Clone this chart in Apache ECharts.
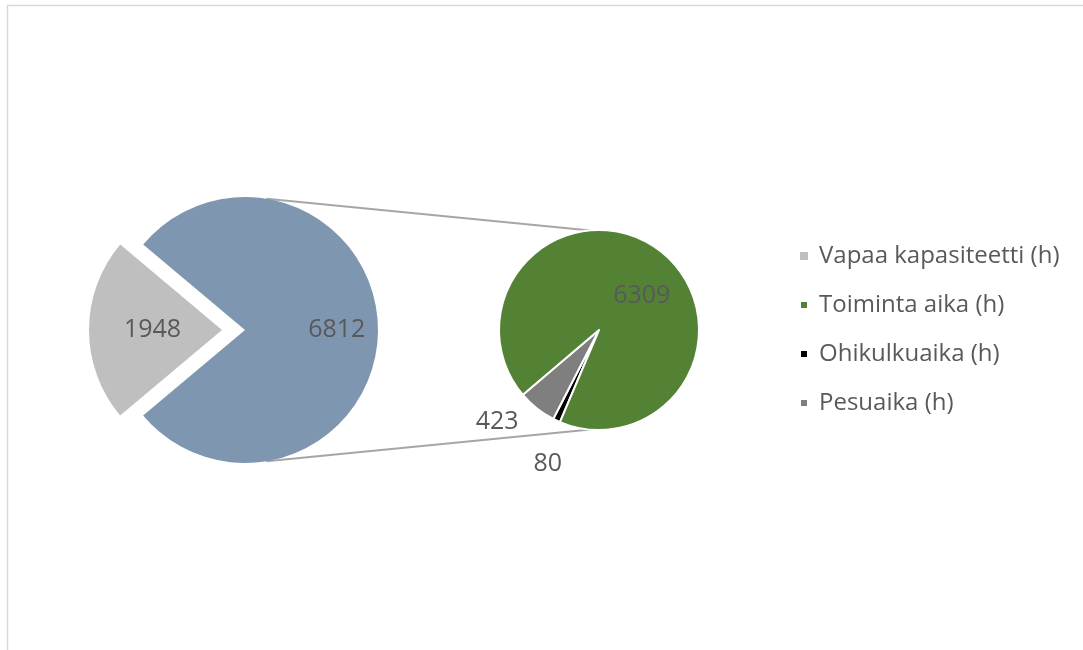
<!DOCTYPE html>
<html>
<head>
<meta charset="utf-8">
<script src="https://cdn.jsdelivr.net/npm/echarts@6/dist/echarts.min.js"></script>
<style>
  html, body { margin: 0; padding: 0; background: #ffffff; }
  #chart { width: 1083px; height: 650px; }
</style>
</head>
<body>
<div id="chart"></div>
<script>
// Käyttöaika jaettuna: vapaa kapasiteetti vs. käytetty aika, joka avataan toiseen piirakkaan
const primaryNames = ['Vapaa kapasiteetti (h)', 'Käytetty aika (h)'];
const primaryValues = [1948, 6812];
const secondaryNames = ['Ohikulkuaika (h)', 'Pesuaika (h)', 'Toiminta aika (h)'];
const secondaryValues = [80, 423, 6309];
const legendNames = ['Vapaa kapasiteetti (h)', 'Toiminta aika (h)', 'Ohikulkuaika (h)', 'Pesuaika (h)'];

const colors = {
  'Vapaa kapasiteetti (h)': '#bfbfbf',
  'Käytetty aika (h)': '#7f96b1',
  'Toiminta aika (h)': '#548235',
  'Ohikulkuaika (h)': '#000000',
  'Pesuaika (h)': '#7f7f7f'
};

// Piirakoiden sijainti ja koko
const MAIN_C = [245, 330], MAIN_R = 133;
const SUB_C = [599, 330], SUB_R = 100;
const FONT = '"Open Sans", Lato, sans-serif';
const TEXT = '#595959';

// Arvotekstien paikat: [säde suhteessa piirakan säteeseen, kulma asteina]
const labelSpots = {
  'Vapaa kapasiteetti (h)': [0.88, 180],
  'Käytetty aika (h)': [0.69, 0],
  'Toiminta aika (h)': [0.55, 39],
  'Pesuaika (h)': [1.37, 222],
  'Ohikulkuaika (h)': [1.43, 249]
};

function polar(c, r, deg) {
  const a = deg * Math.PI / 180;
  return [c[0] + r * Math.cos(a), c[1] - r * Math.sin(a)];
}

function spotLayout(names, c, R) {
  return function (p) {
    const s = labelSpots[names[p.dataIndex]];
    const pt = polar(c, R * s[0], s[1]);
    return { x: pt[0], y: pt[1], align: 'center', verticalAlign: 'middle' };
  };
}

const chart = echarts.init(document.getElementById('chart'), null, { renderer: 'canvas' });

const mainData = primaryNames.map((n, i) => ({
  name: n,
  value: primaryValues[i],
  selected: i === 0,
  itemStyle: { color: colors[n] }
}));
const subData = secondaryNames.map((n, i) => ({
  name: n,
  value: secondaryValues[i],
  itemStyle: { color: colors[n] }
}));

// Yhdysviivat pääpiirakasta toiseen piirakkaan
const topA = polar(MAIN_C, MAIN_R, 80.7), topB = polar(SUB_C, SUB_R, 95);
const botA = polar(MAIN_C, MAIN_R, -80.7), botB = polar(SUB_C, SUB_R, -95);

const labelBase = {
  show: true,
  position: 'inside',
  formatter: '{c}',
  color: TEXT,
  fontFamily: FONT,
  fontSize: 25
};

chart.setOption({
  animation: false,
  backgroundColor: '#ffffff',
  legend: {
    data: legendNames,
    orient: 'vertical',
    left: 794,
    top: 237,
    icon: 'rect',
    itemWidth: 8,
    itemHeight: 8,
    itemGap: 21,
    selectedMode: false,
    textStyle: {
      color: TEXT,
      fontFamily: FONT,
      fontSize: 24,
      lineHeight: 28,
      padding: [0, 0, 0, 6]
    }
  },
  graphic: [
    {
      type: 'rect',
      silent: true,
      shape: { x: 7.5, y: 5.5, width: 1200, height: 800 },
      style: { fill: 'none', stroke: '#d9d9d9', lineWidth: 1.5 }
    },
    {
      type: 'line',
      silent: true,
      shape: { x1: topA[0], y1: topA[1], x2: topB[0], y2: topB[1] },
      style: { stroke: '#a6a6a6', lineWidth: 2 }
    },
    {
      type: 'line',
      silent: true,
      shape: { x1: botA[0], y1: botA[1], x2: botB[0], y2: botB[1] },
      style: { stroke: '#a6a6a6', lineWidth: 2 }
    }
  ],
  series: [
    {
      type: 'pie',
      center: MAIN_C,
      radius: MAIN_R,
      startAngle: 220,
      clockwise: true,
      selectedMode: 'single',
      selectedOffset: 23,
      emphasis: { disabled: true },
      label: labelBase,
      labelLine: { show: false },
      labelLayout: spotLayout(primaryNames, MAIN_C, MAIN_R),
      itemStyle: { borderWidth: 0 },
      data: mainData
    },
    {
      type: 'pie',
      center: SUB_C,
      radius: SUB_R,
      startAngle: 247,
      clockwise: true,
      emphasis: { disabled: true },
      label: labelBase,
      labelLine: { show: false },
      labelLayout: spotLayout(secondaryNames, SUB_C, SUB_R),
      itemStyle: { borderColor: '#ffffff', borderWidth: 2 },
      data: subData
    }
  ]
});
</script>
</body>
</html>
